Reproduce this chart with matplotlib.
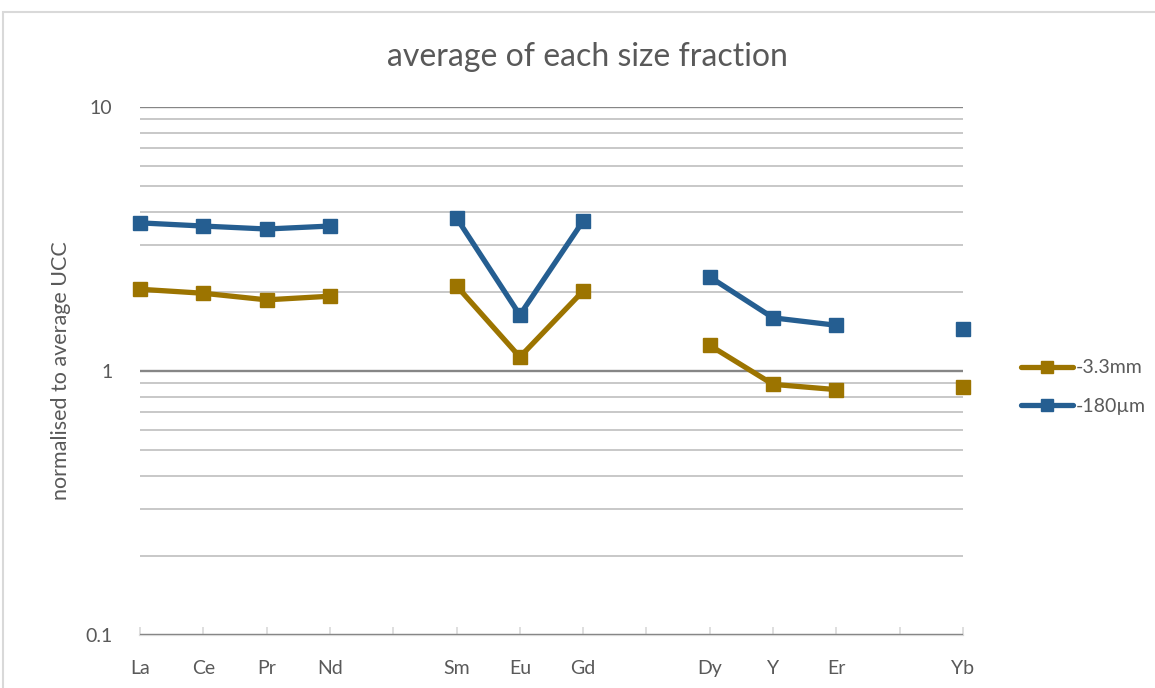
import numpy as np
import matplotlib
matplotlib.use("Agg")
import matplotlib.pyplot as plt
from matplotlib.patches import Rectangle
from matplotlib.ticker import LogLocator, FixedLocator, NullFormatter

plt.rcParams['font.family'] = ['Lato', 'DejaVu Sans']

# Element categories (blank slots separate the element groups)
categories = ["La", "Ce", "Pr", "Nd", "", "Sm", "Eu", "Gd", "", "Dy", "Y", "Er", "", "Yb"]
coarse_3_3mm = [2.04, 1.97, 1.86, 1.92, np.nan, 2.10, 1.13, 2.01, np.nan, 1.25, 0.89, 0.85, np.nan, 0.87]
fine_180um = [3.64, 3.54, 3.45, 3.54, np.nan, 3.80, 1.63, 3.70, np.nan, 2.27, 1.59, 1.49, np.nan, 1.44]
series_labels = ["-3.3mm", "-180\u00b5m"]
series_colors = ["#9C7400", "#255E91"]

text_color = "#595959"

fig = plt.figure(figsize=(11.55, 6.88), dpi=100)
fig.patch.set_facecolor("white")

# chart area border
fig.patches.append(Rectangle((3 / 1155, -0.1), 1.2, 1.1 - 12 / 688,
                             transform=fig.transFigure, fill=False,
                             edgecolor="#D9D9D9", linewidth=1.5, zorder=0))

ax = fig.add_axes([140 / 1155, 1 - 635 / 688, (963 - 140) / 1155, (635 - 107) / 688])
x = np.arange(len(categories))

ax.set_yscale("log")
ax.set_ylim(0.1, 10)
ax.set_xlim(0, len(categories) - 1)

# gridlines
ax.yaxis.set_major_locator(FixedLocator([0.1, 1, 10]))
ax.yaxis.set_minor_locator(LogLocator(base=10, subs=np.arange(2, 10)))
ax.yaxis.set_minor_formatter(NullFormatter())
ax.set_yticklabels(["0.1", "1", "10"])
ax.grid(True, which="major", axis="y", color="#868686", linewidth=1.7, zorder=0)
ax.grid(True, which="minor", axis="y", color="#C8C8C8", linewidth=1.4, zorder=0)
ax.tick_params(axis="y", which="both", length=0, pad=20, labelsize=14, labelcolor=text_color)

ax.set_xticks(x)
ax.set_xticklabels(categories)
ax.tick_params(axis="x", direction="in", length=6, width=1.2, color="#D9D9D9",
               pad=18, labelsize=14, labelcolor=text_color)

for side in ["top", "right", "left"]:
    ax.spines[side].set_visible(False)
ax.spines["bottom"].set_color("#D9D9D9")
ax.spines["bottom"].set_linewidth(1.6)
ax.spines["bottom"].set_zorder(1)

for vals, lab, col in zip([coarse_3_3mm, fine_180um], series_labels, series_colors):
    ax.plot(x, vals, color=col, linewidth=3.8, marker="s", markersize=10,
            label=lab, zorder=3, clip_on=False, solid_capstyle="round")

ax.set_ylabel("normalised to average UCC", fontsize=15.5, color=text_color, labelpad=10)

fig.text(587 / 1155, 1 - 57 / 688, "average of each size fraction", ha="center", va="center",
         fontsize=23, color=text_color)

leg = ax.legend(loc="center left", bbox_to_anchor=(1003 / 1155, 1 - 387 / 688),
                bbox_transform=fig.transFigure, frameon=False, fontsize=14,
                handlelength=2.7, handletextpad=0.15, labelspacing=1.1, markerscale=0.9)
for t in leg.get_texts():
    t.set_color(text_color)

fig.savefig("out.png", dpi=100, facecolor="white")
